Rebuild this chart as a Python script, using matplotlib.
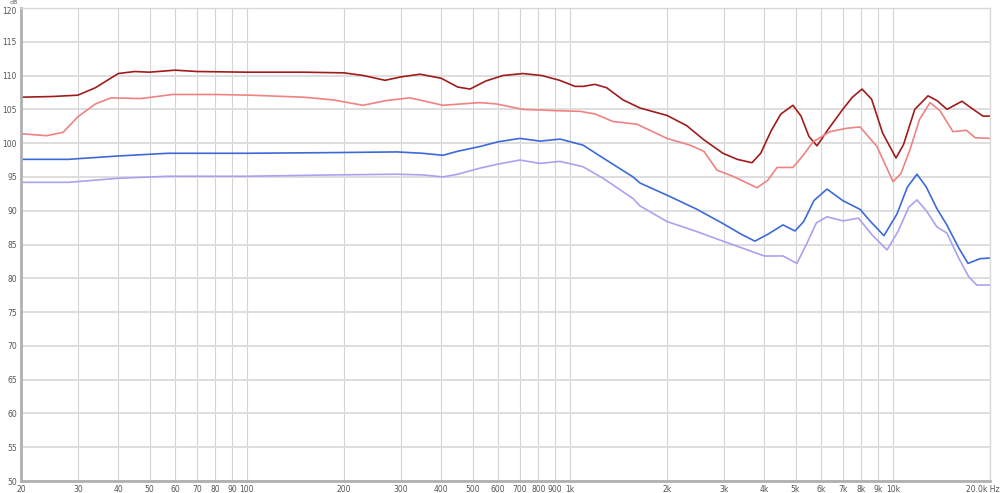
import numpy as np
import matplotlib
matplotlib.use('Agg')
import matplotlib.pyplot as plt
import matplotlib.transforms as mtransforms
from matplotlib.ticker import FixedLocator, NullLocator

# Frequency response data (Hz, dB)
f_dark = [20, 25, 30, 34, 40, 45, 50, 60, 70, 100, 150, 200, 230, 268, 300, 344, 400, 450,
          491, 550, 620, 716, 820, 930, 1038, 1100, 1197, 1300, 1462, 1650, 2000, 2300, 2600,
          2980, 3300, 3666, 3900, 4200, 4500, 4909, 5200, 5500, 5826, 6300, 7000, 7500, 8032,
          8600, 9300, 10234, 10800, 11700, 12855, 13700, 14720, 16377, 17500, 19020, 20000]
db_dark = [106.8, 106.9, 107.1, 108.2, 110.3, 110.6, 110.5, 110.8, 110.6, 110.5, 110.5, 110.4,
           110.0, 109.3, 109.8, 110.2, 109.6, 108.3, 108.0, 109.2, 110.0, 110.3, 110.0, 109.3,
           108.4, 108.4, 108.7, 108.2, 106.4, 105.2, 104.1, 102.6, 100.5, 98.5, 97.6, 97.1,
           98.5, 101.8, 104.3, 105.6, 104.0, 101.0, 99.6, 102.0, 105.0, 106.8, 108.0, 106.5,
           101.5, 97.8, 99.8, 105.0, 107.0, 106.3, 105.0, 106.2, 105.2, 104.0, 104.0]

f_light = [20, 24, 27, 30, 34, 38, 47, 59, 80, 102, 150, 185, 229, 270, 320, 405, 527, 592,
           716, 913, 1080, 1200, 1361, 1615, 2000, 2357, 2600, 2857, 3200, 3800, 4100, 4383,
           4909, 5300, 5664, 6393, 7200, 7920, 8935, 10020, 10600, 11300, 12100, 13040, 14000,
           15360, 16900, 18000, 20000]
db_light = [101.4, 101.1, 101.6, 103.9, 105.8, 106.7, 106.6, 107.2, 107.2, 107.1, 106.8, 106.4,
            105.6, 106.3, 106.7, 105.6, 106.0, 105.8, 105.0, 104.8, 104.7, 104.3, 103.2, 102.8,
            100.7, 99.7, 98.8, 96.0, 95.1, 93.4, 94.5, 96.4, 96.4, 98.3, 100.2, 101.7, 102.2,
            102.4, 99.5, 94.3, 95.5, 99.0, 103.5, 106.0, 104.8, 101.7, 101.9, 100.8, 100.7]

f_blue = [20, 28, 30, 40, 57, 100, 185, 292, 350, 405, 450, 527, 600, 701, 809, 933, 1100,
          1268, 1570, 1650, 2042, 2478, 2980, 3400, 3742, 4100, 4572, 4980, 5300, 5700, 6256,
          7000, 7920, 8500, 9390, 10300, 11100, 11885, 12700, 13700, 14700, 16000, 17100,
          18620, 20000]
db_blue = [97.6, 97.6, 97.7, 98.1, 98.5, 98.5, 98.6, 98.7, 98.5, 98.2, 98.8, 99.5, 100.2,
           100.7, 100.3, 100.6, 99.7, 97.8, 95.0, 94.1, 92.1, 90.2, 88.1, 86.5, 85.5, 86.5,
           87.9, 87.0, 88.4, 91.5, 93.2, 91.5, 90.2, 88.5, 86.3, 89.5, 93.5, 95.4, 93.5, 90.3,
           87.9, 84.5, 82.2, 82.9, 83.0]

f_lav = [20, 28, 40, 57, 100, 185, 292, 350, 405, 450, 527, 600, 701, 809, 933, 1100, 1268,
         1570, 1650, 2000, 2478, 2980, 3500, 4000, 4572, 5050, 5400, 5800, 6256, 7010, 7830,
         8600, 9600, 10400, 11200, 11885, 12700, 13700, 14700, 16000, 17200, 18200, 20000]
db_lav = [94.2, 94.2, 94.8, 95.1, 95.1, 95.3, 95.4, 95.3, 95.0, 95.4, 96.3, 96.9, 97.5, 97.0,
          97.3, 96.5, 94.8, 91.8, 90.7, 88.4, 86.9, 85.5, 84.3, 83.3, 83.3, 82.2, 85.0, 88.2,
          89.1, 88.5, 88.9, 86.5, 84.2, 87.0, 90.5, 91.6, 90.0, 87.6, 86.7, 83.0, 80.2, 79.0,
          79.0]

x_ticks = [20, 30, 40, 50, 60, 70, 80, 90, 100, 200, 300, 400, 500, 600, 700, 800, 900,
           1000, 2000, 3000, 4000, 5000, 6000, 7000, 8000, 9000, 10000, 20000]
x_labels = ['20', '30', '40', '50', '60', '70', '80', '90', '100', '200', '300', '400', '500',
            '600', '700', '800', '900', '1k', '2k', '3k', '4k', '5k', '6k', '7k', '8k', '9k',
            '10k', '20.0k Hz']
y_ticks = list(range(50, 125, 5))

fig = plt.figure(figsize=(10, 4.93), dpi=100)
ax = fig.add_axes([0.021, 0.0243, 0.969, 0.9595])

ax.plot(f_dark, db_dark, color='#a01c1c', lw=1.2)
ax.plot(f_light, db_light, color='#f08282', lw=1.2)
ax.plot(f_blue, db_blue, color='#3c6ad8', lw=1.2)
ax.plot(f_lav, db_lav, color='#a9a2f0', lw=1.2)

ax.set_xscale('log')
ax.set_xlim(20, 20000)
ax.set_ylim(50, 120)
ax.xaxis.set_major_locator(FixedLocator(x_ticks))
ax.xaxis.set_minor_locator(NullLocator())
ax.set_xticklabels(x_labels)
ax.set_yticks(y_ticks)
ax.set_yticklabels([str(v) for v in y_ticks])
ax.tick_params(length=0, labelsize=5.5, colors='#555555', pad=3)

# last x label sits a little left of its tick so it stays inside the figure
last = ax.get_xticklabels()[-1]
last.set_transform(last.get_transform() + mtransforms.ScaledTranslation(-5 / 72, 0, fig.dpi_scale_trans))
# top y label nudged down a bit to leave room for the unit
top = ax.get_yticklabels()[-1]
top.set_transform(top.get_transform() + mtransforms.ScaledTranslation(0, -1.5 / 72, fig.dpi_scale_trans))

ax.grid(axis='x', color='#d4d4d4', lw=0.8)
ax.grid(axis='y', color='#dedede', lw=1.4)
ax.set_axisbelow(True)

for s in ['left', 'bottom']:
    ax.spines[s].set_color('#b0b0b0')
    ax.spines[s].set_linewidth(2)
for s in ['top', 'right']:
    ax.spines[s].set_color('#d8d8d8')
    ax.spines[s].set_linewidth(1)

fig.text(0.010, 0.999, 'dB', fontsize=4.5, color='#555555', va='top')

fig.savefig('out.png', dpi=100)
